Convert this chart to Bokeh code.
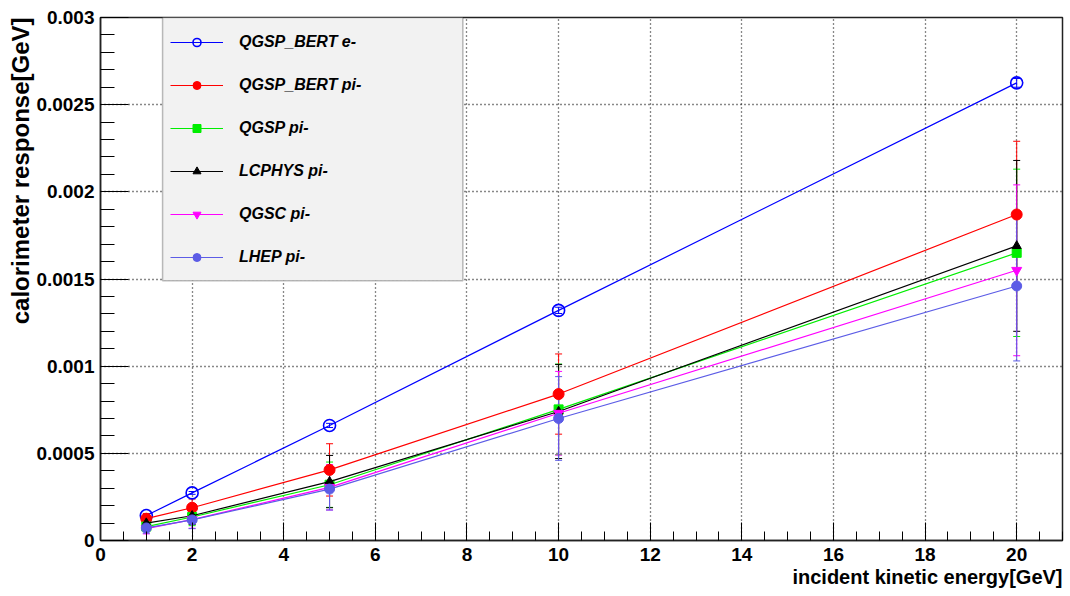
import math
from bokeh.plotting import figure
from bokeh.embed import file_html
from bokeh.resources import INLINE
from bokeh.models import (FixedTicker, CustomJSTickFormatter, Whisker, TeeHead, ColumnDataSource,
                          Legend, LegendItem, BoxAnnotation, Title, Range1d)

# ---------------- data ----------------
energy = [1, 2, 5, 10, 20]

names = ["QGSP_BERT e-", "QGSP_BERT pi-", "QGSP pi-", "LCPHYS pi-", "QGSC pi-", "LHEP pi-"]

qgsp_bert_e = [0.000143, 0.000273, 0.00066, 0.00132, 0.002625]
qgsp_bert_e_err = [0.000006, 0.000008, 0.000012, 0.000018, 0.000025]

qgsp_bert_pi = [0.000125, 0.000188, 0.000405, 0.00084, 0.00187]
qgsp_bert_pi_err = [0.00003, 0.00005, 0.00015, 0.00023, 0.00042]

qgsp_pi = [0.00008, 0.000135, 0.00032, 0.000752, 0.00165]
qgsp_pi_err = [0.00003, 0.00005, 0.00013, 0.00026, 0.00048]

lcphys_pi = [0.0001, 0.000142, 0.000338, 0.00074, 0.00169]
lcphys_pi_err = [0.00003, 0.00005, 0.00015, 0.00027, 0.00049]

qgsc_pi = [0.000068, 0.00012, 0.000305, 0.00073, 0.00155]
qgsc_pi_err = [0.00003, 0.00005, 0.00013, 0.00024, 0.00049]

lhep_pi = [0.000072, 0.000118, 0.000295, 0.0007, 0.00146]
lhep_pi_err = [0.00003, 0.00005, 0.00012, 0.00024, 0.00043]

x_ticks = [0, 2, 4, 6, 8, 10, 12, 14, 16, 18, 20]
x_tick_labels = ["0", "2", "4", "6", "8", "10", "12", "14", "16", "18", "20"]
y_ticks = [0, 0.0005, 0.001, 0.0015, 0.002, 0.0025, 0.003]
y_tick_labels = ["0", "0.0005", "0.001", "0.0015", "0.002", "0.0025", "0.003"]

x_title = "incident kinetic energy[GeV]"
y_title = "calorimeter response[GeV]"

# ---------------- figure ----------------
FONT = "Liberation Sans"

p = figure(width=1064, height=590, x_range=Range1d(0, 21), y_range=Range1d(0, 0.003),
           output_backend="svg", toolbar_location=None,
           min_border_left=100, min_border_top=17, min_border_right=2, min_border_bottom=50)
p.background_fill_color = "white"
p.border_fill_color = "white"
p.outline_line_color = "#222222"
p.outline_line_width = 1.5

x_minor = [i * 0.5 for i in range(0, 43)]
y_minor = [i * 0.0001 for i in range(0, 31)]
p.xaxis.ticker = FixedTicker(ticks=x_ticks, minor_ticks=x_minor)
p.yaxis.ticker = FixedTicker(ticks=y_ticks, minor_ticks=y_minor)

p.xaxis.formatter = CustomJSTickFormatter(
    args=dict(tvals=x_ticks, tlabels=x_tick_labels),
    code="const i = tvals.findIndex(t => Math.abs(t - tick) < 1e-9); return i >= 0 ? tlabels[i] : '';")
p.yaxis.formatter = CustomJSTickFormatter(
    args=dict(tvals=y_ticks, tlabels=y_tick_labels),
    code="const i = tvals.findIndex(t => Math.abs(t - tick) < 1e-12); return i >= 0 ? tlabels[i] : '';")

xa = p.xaxis[0]
ya = p.yaxis[0]
for ax in (xa, ya):
    ax.major_label_text_font = FONT
    ax.major_label_text_font_style = "bold"
    ax.major_label_text_color = "black"
    ax.axis_line_color = "#222222"
    ax.axis_line_width = 1.5
    ax.major_tick_line_color = "black"
    ax.minor_tick_line_color = "black"
    ax.major_tick_out = 0
    ax.minor_tick_out = 0

xa.major_label_text_font_size = "19px"
ya.major_label_text_font_size = "19px"
xa.major_tick_in = 18
xa.minor_tick_in = 9
ya.major_tick_in = 28
ya.minor_tick_in = 14
xa.major_label_standoff = 7
ya.major_label_standoff = 6

p.grid.grid_line_color = "#111111"
p.grid.grid_line_dash = "1 3"
p.grid.grid_line_width = 1.3

# axis titles, ROOT style (aligned to the end of each axis)
p.add_layout(Title(text=x_title, align="right", text_font=FONT, text_font_style="bold",
                   text_font_size="20px", text_color="black", standoff=0), "below")
p.add_layout(Title(text=y_title, align="right", text_font=FONT, text_font_style="bold",
                   text_font_size="24px", text_color="black", standoff=0), "left")

# ---------------- series ----------------
series = [
    (names[0], qgsp_bert_e, qgsp_bert_e_err, "#0000ff", "circle", 12, False),
    (names[1], qgsp_bert_pi, qgsp_bert_pi_err, "#ff0000", "circle", 11, True),
    (names[2], qgsp_pi, qgsp_pi_err, "#00ee00", "square", 9, True),
    (names[3], lcphys_pi, lcphys_pi_err, "#000000", "triangle", 9, True),
    (names[4], qgsc_pi, qgsc_pi_err, "#ff00ff", "inverted_triangle", 10, True),
    (names[5], lhep_pi, lhep_pi_err, "#5c5ce6", "circle", 10, True),
]

legend_items = []
for name, vals, errs, color, marker, size, filled in series:
    src = ColumnDataSource(dict(
        x=energy, y=vals,
        upper=[v + e for v, e in zip(vals, errs)],
        lower=[v - e for v, e in zip(vals, errs)]))
    w = Whisker(source=src, base="x", upper="upper", lower="lower", dimension="height",
                line_color=color, line_width=1,
                upper_head=TeeHead(size=7, line_color=color, line_width=1),
                lower_head=TeeHead(size=7, line_color=color, line_width=1))
    p.add_layout(w)
    lr = p.line("x", "y", source=src, line_color=color, line_width=1.2)
    if filled:
        sr = p.scatter("x", "y", source=src, marker=marker, size=size,
                       fill_color=color, line_color=color)
    else:
        sr = p.scatter("x", "y", source=src, marker=marker, size=size,
                       fill_alpha=0, line_color=color, line_width=1.6)
    legend_items.append(LegendItem(label=name, renderers=[lr, sr]))

# legend background box (ROOT TLegend style)
box = BoxAnnotation(left=1.355, right=7.91, bottom=0.00149, top=0.003,
                    fill_color="#f2f2f2", fill_alpha=1.0,
                    line_color="#222222", line_width=1.5)
p.add_layout(box)

legend = Legend(items=legend_items, location=(58, 261), margin=0, padding=12,
                spacing=23, glyph_width=53, glyph_height=20, label_height=20,
                label_standoff=16, background_fill_alpha=0, border_line_alpha=0,
                label_text_font=FONT, label_text_font_style="bold italic",
                label_text_font_size="16px", label_text_color="black")
p.add_layout(legend)

open("out.html", "w").write(file_html(p, INLINE))
